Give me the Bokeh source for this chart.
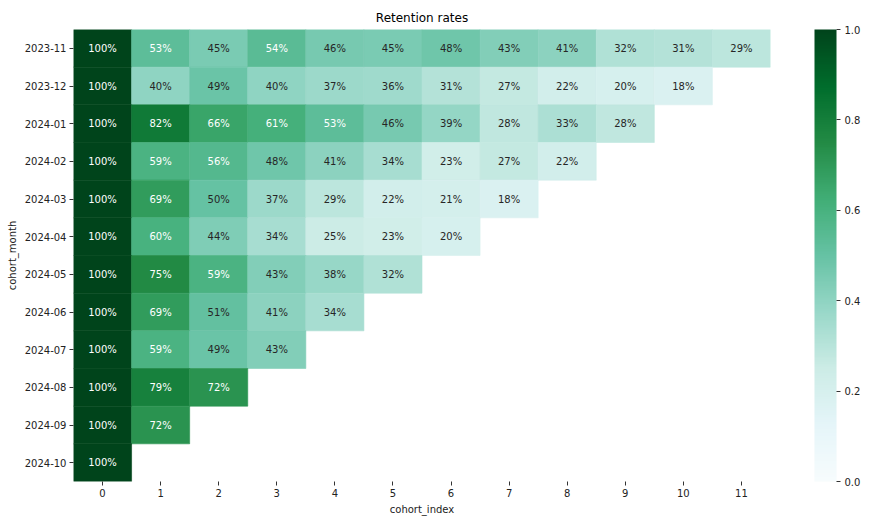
import numpy as np
from bokeh.plotting import figure
from bokeh.models import (ColumnDataSource, LinearColorMapper, ColorBar,
                          FixedTicker, PrintfTickFormatter)
from bokeh.embed import file_html
from bokeh.resources import INLINE
from bokeh.core.properties import value

# ---------------- data ----------------
cohorts = ["2023-11", "2023-12", "2024-01", "2024-02", "2024-03", "2024-04",
           "2024-05", "2024-06", "2024-07", "2024-08", "2024-09", "2024-10"]
indices = [str(i) for i in range(12)]

r_2023_11 = [100, 53, 45, 54, 46, 45, 48, 43, 41, 32, 31, 29]
r_2023_12 = [100, 40, 49, 40, 37, 36, 31, 27, 22, 20, 18]
r_2024_01 = [100, 82, 66, 61, 53, 46, 39, 28, 33, 28]
r_2024_02 = [100, 59, 56, 48, 41, 34, 23, 27, 22]
r_2024_03 = [100, 69, 50, 37, 29, 22, 21, 18]
r_2024_04 = [100, 60, 44, 34, 25, 23, 20]
r_2024_05 = [100, 75, 59, 43, 38, 32]
r_2024_06 = [100, 69, 51, 41, 34]
r_2024_07 = [100, 59, 49, 43]
r_2024_08 = [100, 79, 72]
r_2024_09 = [100, 72]
r_2024_10 = [100]

retention = [r_2023_11, r_2023_12, r_2024_01, r_2024_02, r_2024_03, r_2024_04,
             r_2024_05, r_2024_06, r_2024_07, r_2024_08, r_2024_09, r_2024_10]

cbar_ticks = [0.0, 0.2, 0.4, 0.6, 0.8, 1.0]

# ---------------- colormap (BuGn, 256 steps) ----------------
bugn9 = ["#f7fcfd", "#e5f5f9", "#ccece6", "#99d8c9", "#66c2a4",
         "#41ae76", "#238b45", "#006d2c", "#00441b"]


def hex2rgb(h):
    return np.array([int(h[i:i + 2], 16) for i in (1, 3, 5)], dtype=float) / 255.0


anchors = np.array([hex2rgb(c) for c in bugn9])
pos = np.linspace(0, 1, len(bugn9))
t = np.linspace(0, 1, 256)
rgb256 = np.stack([np.interp(t, pos, anchors[:, k]) for k in range(3)], axis=1)
palette = ["#%02x%02x%02x" % tuple(int(round(c * 255)) for c in row) for row in rgb256]

xs, ys, vals, labels, tcols = [], [], [], [], []
for coh, row in zip(cohorts, retention):
    for i, v in enumerate(row):
        f = v / 100.0
        xs.append(indices[i])
        ys.append(coh)
        vals.append(f)
        labels.append(f"{v}%")
        tcols.append("#ffffff" if f >= 0.525 else "#262626")

src = ColumnDataSource(dict(x=xs, y=ys, v=vals, label=labels, tc=tcols))
mapper = LinearColorMapper(palette=palette, low=0, high=1)

FONT = "DejaVu Sans"

p = figure(x_range=indices, y_range=list(reversed(cohorts)),
           frame_width=697, frame_height=452,
           output_backend="svg", toolbar_location=None, tools="",
           title="Retention rates",
           min_border_left=73, min_border_top=29, min_border_bottom=10,
           min_border_right=94)

p.rect(x="x", y="y", width=1, height=1, source=src,
       fill_color={"field": "v", "transform": mapper},
       line_color={"field": "v", "transform": mapper}, line_width=0.6)
p.text(x="x", y="y", text="label", source=src, text_color="tc",
       text_align="center", text_baseline="middle",
       text_font=value(FONT), text_font_size="10px")

p.title.align = "center"
p.title.text_font = FONT
p.title.text_font_style = "normal"
p.title.text_font_size = "12px"
p.title.text_color = "#000000"

p.xgrid.visible = False
p.ygrid.visible = False
p.outline_line_color = None

for ax in (p.xaxis, p.yaxis):
    ax.axis_line_color = None
    ax.major_tick_in = 0
    ax.major_tick_out = 4
    ax.major_tick_line_color = "#333333"
    ax.minor_tick_line_color = None
    ax.major_label_text_font = FONT
    ax.major_label_text_font_size = "10px"
    ax.major_label_text_color = "#222222"
    ax.axis_label_text_font = FONT
    ax.axis_label_text_font_size = "10px"
    ax.axis_label_text_font_style = "normal"
    ax.axis_label_text_color = "#222222"
    ax.major_label_standoff = 3
    ax.axis_label_standoff = 4

p.xaxis.axis_label = "cohort_index"
p.yaxis.axis_label = "cohort_month"

cb = ColorBar(color_mapper=mapper, ticker=FixedTicker(ticks=cbar_ticks),
              formatter=PrintfTickFormatter(format="%.1f"),
              width=22, height=452, padding=0, margin=0,
              location=(741, 0),
              major_tick_in=0, major_tick_out=4,
              major_tick_line_color="#333333",
              minor_tick_line_color=None, bar_line_color=None,
              label_standoff=4,
              major_label_text_font=FONT,
              major_label_text_font_size="10px",
              major_label_text_color="#222222",
              background_fill_alpha=0, border_line_color=None)
p.add_layout(cb)

open("out.html", "w").write(file_html(p, INLINE))
